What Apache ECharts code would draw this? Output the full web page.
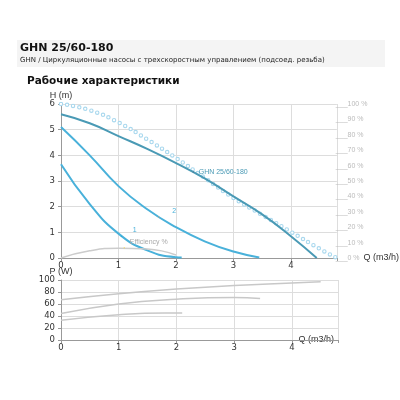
<!DOCTYPE html><html><head><meta charset="utf-8"><script src="https://cdn.jsdelivr.net/npm/echarts@6/dist/echarts.min.js"></script></head><body style="margin:0;background:#fff"><div id="c" style="width:400px;height:400px"></div><script>
const qTicks=[0,1,2,3,4];
const hMain=[[0,5.6],[0.5,5.25],[1,4.75],[1.5,4.25],[2,3.7],[2.5,3.1],[3,2.4],[3.5,1.7],[4,0.85],[4.45,0]];
const h2=[[0,5.1],[0.5,4.0],[1,2.8],[1.5,1.9],[2,1.2],[2.5,0.65],[3,0.25],[3.45,0.02]];
const h1=[[0,3.65],[0.5,2.1],[1,0.95],[1.5,0.3],[2,0.03],[2.1,0.02]];
const effPump=[[0,0],[0.5,0.28],[1,0.38],[1.5,0.35],[2,0.12]];
const effDots=[[0,100],[0.5,96],[1,88],[1.5,77],[2,65],[2.5,52],[3,39],[3.5,28],[4,17],[4.5,6],[4.8,0]];
const pTop=[[0,67],[1,77],[2,85],[3,91],[4,95],[4.5,97]];
const pMid=[[0,44],[1,60],[2,68],[3,71],[3.45,69]];
const pLow=[[0,33],[1,42],[1.8,45],[2.1,45]];
const ax={color:'#333',fontSize:8.5,fontFamily:'DejaVu Sans'};
const grid1={left:61,width:277,top:104,height:154};
const grid2={left:61,width:277,top:280,height:60};
function xA(i){return {type:'value',gridIndex:i,min:0,max:4.8,interval:1,axisLine:{lineStyle:{color:'#999'}},axisTick:{show:true,length:3},splitLine:{lineStyle:{color:'#ddd'}},axisLabel:Object.assign({formatter:v=>v<=4?v:'',margin:3},ax),name:'Q (m3/h)',nameLocation:'end',nameGap:-44,nameTextStyle:{color:'#333',fontSize:9,padding:[0,0,20,0]}};}
const c=echarts.init(document.getElementById('c'));
const dotLine=(w,col)=>({type:'line',data:effDots,yAxisIndex:1,smooth:true,symbol:'none',z:1,lineStyle:{width:w,color:col,type:[0,6.2],cap:'round'}});
c.setOption({animation:false,
graphic:[{type:'rect',shape:{x:17,y:40,width:368,height:27},style:{fill:'#f4f4f4'}},
{type:'text',left:20,top:43,style:{text:'GHN 25/60-180',font:'bold 11px DejaVu Sans',fill:'#111'}},
{type:'text',left:20,top:57,style:{text:'GHN / Циркуляционные насосы с трехскоростным управлением (подсоед. резьба)',font:'7px DejaVu Sans',fill:'#222'}},
{type:'text',left:27,top:76,style:{text:'Рабочие характеристики',font:'bold 10.5px DejaVu Sans',fill:'#111'}}],
grid:[grid1,grid2],
xAxis:[xA(0),xA(1)],
yAxis:[{gridIndex:0,min:0,max:6,interval:1,name:'H (m)',nameGap:2,nameTextStyle:{color:'#333',fontSize:9,align:'center'},axisLine:{show:true,lineStyle:{color:'#999'}},axisTick:{show:true,length:3},splitLine:{lineStyle:{color:'#ddd'}},axisLabel:Object.assign({margin:6},ax)},
{gridIndex:0,min:0,max:100,interval:10,position:'right',axisLine:{show:false},splitLine:{show:false},axisTick:{show:false},axisLabel:{formatter:v=>'___'+v+' %',color:'#bbb',fontSize:7,margin:-1}},
{gridIndex:1,min:0,max:100,interval:20,name:'P (W)',nameGap:2,nameTextStyle:{color:'#333',fontSize:9,align:'center'},axisLine:{show:true,lineStyle:{color:'#999'}},axisTick:{show:true,length:3},splitLine:{lineStyle:{color:'#ddd'}},axisLabel:Object.assign({margin:6},ax)}],
series:[
dotLine(4.5,'#a9d8ee'),dotLine(2.3,'#ffffff'),
{type:'line',data:hMain,smooth:true,symbol:'none',lineStyle:{color:'#4a9ab5',width:2},markPoint:{symbol:'circle',symbolSize:1,data:[{coord:[2.3,3.35],label:{show:true,formatter:'GHN 25/60-180',color:'#4a9ab5',fontSize:7,position:'right'}}]}},
{type:'line',data:h2,smooth:true,symbol:'none',lineStyle:{color:'#49b1da',width:2},markPoint:{symbol:'circle',symbolSize:1,data:[{coord:[1.7,1.6],label:{show:true,formatter:'2',color:'#49b1da',fontSize:7,position:'right',offset:[8,-6]}}]}},
{type:'line',data:h1,smooth:true,symbol:'none',lineStyle:{color:'#49b1da',width:2},markPoint:{symbol:'circle',symbolSize:1,data:[{coord:[1.05,0.85],label:{show:true,formatter:'1',color:'#49b1da',fontSize:7,position:'right',offset:[6,-6]}}]}},
{type:'line',data:effPump,smooth:true,symbol:'none',lineStyle:{color:'#ccc',width:1.5},markPoint:{symbol:'circle',symbolSize:1,data:[{coord:[1.1,0.4],label:{show:true,formatter:'Efficiency %',color:'#aaa',fontSize:7,position:'right',offset:[0,-6]}}]}},
{type:'line',data:pTop,xAxisIndex:1,yAxisIndex:2,smooth:true,symbol:'none',lineStyle:{color:'#c8c8c8',width:1.5}},
{type:'line',data:pMid,xAxisIndex:1,yAxisIndex:2,smooth:true,symbol:'none',lineStyle:{color:'#c8c8c8',width:1.5}},
{type:'line',data:pLow,xAxisIndex:1,yAxisIndex:2,smooth:true,symbol:'none',lineStyle:{color:'#c8c8c8',width:1.5}}
]});
</script></body></html>
